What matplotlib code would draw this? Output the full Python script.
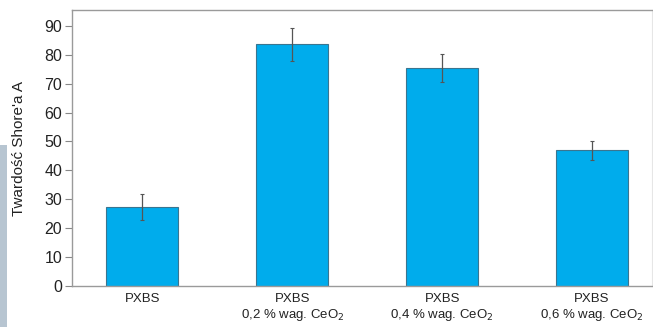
import matplotlib.pyplot as plt
from matplotlib.patches import Rectangle

# dane
categories = ["PXBS", "PXBS\n0,2 % wag. CeO$_2$", "PXBS\n0,4 % wag. CeO$_2$", "PXBS\n0,6 % wag. CeO$_2$"]
hardness = [27.3, 83.7, 75.4, 47.0]
errors = [4.5, 5.7, 4.9, 3.3]
yticks = [0, 10, 20, 30, 40, 50, 60, 70, 80, 90]

plt.rcParams['font.family'] = ['Liberation Sans', 'DejaVu Sans']

fig = plt.figure(figsize=(6.53, 3.27), dpi=100)
ax = fig.add_axes([72 / 653, 1 - 286 / 327, (652 - 72) / 653, (286 - 10) / 327])

# szary pasek po lewej stronie
fig.patches.append(Rectangle((0, 0), 7 / 653, (327 - 145) / 327, transform=fig.transFigure,
                             facecolor='#b7c5d1', edgecolor='none'))

x = range(len(categories))
ax.bar(x, hardness, width=0.48, color='#00acec', edgecolor='#3a7590', linewidth=0.8, zorder=2)
ax.errorbar(x, hardness, yerr=errors, fmt='none', ecolor='#555555', elinewidth=0.9,
            capsize=1.5, capthick=0.8, zorder=3)

ax.set_xlim(-0.47, 3.4)
ax.set_ylim(0, 95.5)
ax.set_yticks(yticks)
ax.set_xticks(list(x))
ax.set_xticklabels(categories, fontsize=9.5, linespacing=1.2)
ax.tick_params(axis='y', labelsize=11.5, colors='#222222', length=5, width=0.8, color='#888888', pad=2)
ax.tick_params(axis='x', length=0, pad=5, colors='#222222')
ax.set_ylabel("Twardość Shore'a A", fontsize=11, color='#222222', labelpad=13)

for s in ['left', 'top', 'bottom']:
    ax.spines[s].set_color('#9a9a9a')
    ax.spines[s].set_linewidth(1.0)
ax.spines['right'].set_color('#e6e6e6')

plt.savefig("out.png", dpi=100)
